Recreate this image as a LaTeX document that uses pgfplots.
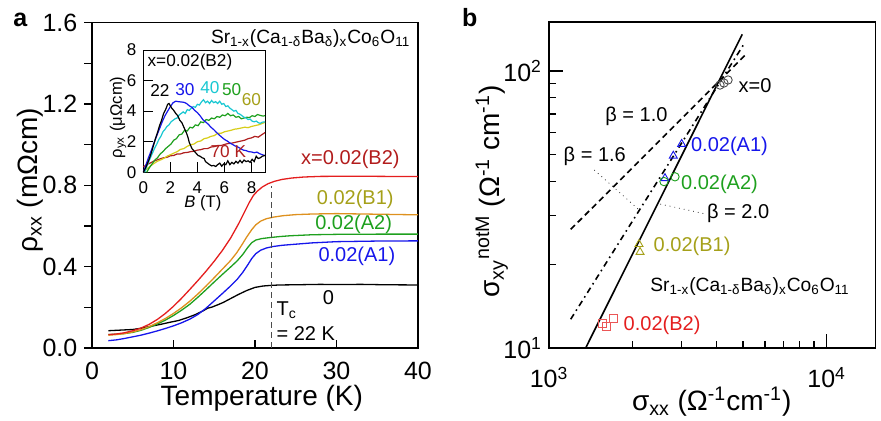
\documentclass[border=0pt]{standalone}
\usepackage{fontspec}
\setmainfont{Liberation Sans}
\usepackage{pgfplots}
\pgfplotsset{compat=1.18}

\definecolor{cRed}{RGB}{228,30,30}
\definecolor{cRedTxt}{RGB}{178,28,28}
\definecolor{cOrange}{RGB}{222,145,30}
\definecolor{cOlive}{RGB}{165,160,25}
\definecolor{cGreen}{RGB}{30,160,30}
\definecolor{cBlue}{RGB}{22,22,235}
\definecolor{cCyan}{RGB}{25,200,210}
\definecolor{cYellow}{RGB}{215,205,25}
\definecolor{cMaroon}{RGB}{175,30,30}
\newcommand{\fs}[1]{\fontsize{#1}{#1}\selectfont}
\newcommand{\SrF}{Sr\textsubscript{1-x}(Ca\textsubscript{1-δ}Ba\textsubscript{δ})\textsubscript{x}Co\textsubscript{6}O\textsubscript{11}}

\pgfplotsset{
  myaxis/.style={
    scale only axis,
    anchor=south west,
    clip=false,
    axis line style={line width=0.6pt},
    every tick/.style={black, line width=0.6pt},
    tick pos=left,
    /pgf/number format/assume math mode=true,
  },
}

\begin{document}
\begin{tikzpicture}
\useasboundingbox (0pt,0pt) rectangle (440.5pt,-210.5pt);

\node[anchor=base west, font=\fs{12.5pt}\bfseries, inner sep=0pt] at (6.5pt,-13.5pt) {a};
\node[anchor=base west, font=\fs{12.5pt}\bfseries, inner sep=0pt] at (230.8pt,-13.4pt) {b};

% ---------------- panel a ----------------
\begin{axis}[myaxis,
  at={(46pt,-174pt)}, width=163pt, height=162.65pt,
  xmin=0, xmax=40, ymin=0, ymax=1.6,
  xtick={0,10,20,30,40}, ytick={0,0.4,0.8,1.2,1.6},
  minor ytick={0.2,0.6,1.0,1.4},
  xtick align=inside, ytick align=outside,
  major tick length=3.8pt, minor tick length=3.8pt,
  tick label style={font=\fs{12.5pt}},
  xticklabel style={yshift=-3.5pt},
  yticklabel style={/pgf/number format/fixed, /pgf/number format/fixed zerofill, /pgf/number format/precision=1},
  xlabel={Temperature (K)}, ylabel={ρ\textsubscript{xx} (mΩcm)},
  label style={font=\fs{14pt}},
  xlabel style={at={(axis description cs:0.521,-0.154)}, anchor=center},
  ylabel style={at={(axis description cs:-0.19,0.516)}, anchor=center},
]
\addplot[black, line width=0.65pt] coordinates {
 (2,0.085) (3,0.087) (4,0.089) (5,0.091) (6,0.097) (6.5,0.101) (7.5,0.109) (8.5,0.117)
 (9.5,0.126) (10.6,0.135) (11.6,0.148) (12.6,0.163) (13.6,0.182) (14.2,0.196) (14.7,0.201)
 (15.4,0.212) (16.1,0.224) (17,0.243) (18,0.264) (19,0.283) (20,0.298) (21,0.305) (22,0.308)
 (23,0.31) (25,0.311) (28,0.313) (30,0.312) (33,0.313) (36,0.311) (40,0.31)};
\addplot[cBlue, line width=0.65pt] coordinates {
 (2,0.036) (3,0.040) (4,0.047) (5,0.055) (6,0.063) (7,0.073) (8,0.084) (9,0.096) (10,0.109)
 (11,0.124) (12,0.142) (13,0.165) (14,0.196) (15,0.232) (16,0.268) (17,0.305) (17.8,0.337)
 (18.5,0.372) (19.1,0.408) (19.6,0.44) (20.1,0.464) (20.7,0.481) (21.4,0.492) (22.2,0.499)
 (23.3,0.505) (24.5,0.509) (27,0.517) (30,0.523) (35,0.526) (40,0.527)};
\addplot[cGreen, line width=0.65pt] coordinates {
 (2,0.066) (3,0.068) (4,0.071) (5,0.077) (6,0.087) (7,0.101) (8,0.118) (9,0.137) (10,0.160)
 (11,0.186) (12,0.215) (13,0.250) (14,0.287) (15,0.325) (16,0.362) (17,0.398) (17.8,0.428)
 (18.5,0.460) (19.1,0.494) (19.6,0.518) (20.1,0.531) (20.8,0.538) (21.8,0.543) (23,0.548)
 (24.3,0.552) (27,0.557) (30,0.559) (35,0.56) (40,0.56)};
\addplot[cOrange, line width=0.65pt] coordinates {
 (2,0.063) (3,0.066) (4,0.071) (5,0.079) (6,0.090) (7,0.105) (8,0.124) (9,0.145) (10,0.170)
 (11,0.198) (12,0.230) (13,0.266) (14,0.305) (15,0.346) (16,0.388) (17,0.430) (17.75,0.468)
 (18.4,0.508) (19,0.547) (19.6,0.582) (20.1,0.606) (20.7,0.624) (21.4,0.636) (22.3,0.644)
 (23.5,0.651) (25,0.656) (27,0.659) (30,0.661) (35,0.658) (40,0.655)};
\addplot[cRed, line width=0.65pt] coordinates {
 (2,0.066) (3,0.069) (4,0.075) (5,0.085) (6,0.098) (7,0.116) (8,0.140) (9,0.170) (10,0.205)
 (11,0.245) (12,0.288) (13,0.332) (14,0.378) (15,0.427) (16,0.480) (17,0.540) (18,0.612)
 (18.7,0.668) (19.3,0.716) (19.8,0.750) (20.3,0.772) (20.9,0.792) (21.6,0.808) (22.4,0.820)
 (23.3,0.829) (24.5,0.836) (26,0.841) (28,0.844) (32,0.845) (36,0.844) (40,0.843)};

\draw[black!70, line width=0.7pt, dash pattern=on 3pt off 2pt] (axis cs:22,0) -- (axis cs:22,0.795);

\node[anchor=east, inner sep=0pt, font=\fs{9.6pt}] at (axis cs:39.1,1.522) {\SrF};
\node[font=\fs{10pt}, text=cRedTxt] at (axis cs:31.7,0.928) {x=0.02(B2)};
\node[font=\fs{10pt}, text=cOlive] at (axis cs:32.3,0.731) {0.02(B1)};
\node[font=\fs{10pt}, text=cGreen] at (axis cs:32.1,0.61) {0.02(A2)};
\node[font=\fs{10pt}, text=cBlue] at (axis cs:32.5,0.449) {0.02(A1)};
\node[font=\fs{10pt}] at (axis cs:29.0,0.247) {0};
\node[anchor=west, inner sep=0pt, font=\fs{10pt}] at (axis cs:22.6,0.187) {T\textsubscript{c}};
\node[anchor=west, inner sep=0pt, font=\fs{10pt}] at (axis cs:22.6,0.072) {= 22 K};
\end{axis}

% ---------------- inset ----------------
\begin{axis}[myaxis,
  at={(71.65pt,-86.15pt)}, width=60.85pt, height=61.15pt,
  axis background/.style={fill=white},
  xmin=0, xmax=9, ymin=0, ymax=8,
  xtick={0,2,4,6,8}, ytick={0,2,4,6,8},
  tick align=inside, major tick length=5pt,
  every tick/.style={black, line width=0.5pt},
  axis line style={line width=0.5pt},
  tick label style={font=\fs{8.5pt}},
  xticklabel style={yshift=-1pt},
  xlabel={\textit{B} (T)}, ylabel={ρ\textsubscript{yx} (μΩcm)},
  label style={font=\fs{8.3pt}},
  xlabel style={at={(axis description cs:0.49,-0.255)}, anchor=center},
  ylabel style={at={(axis description cs:-0.208,0.448)}, anchor=center},
]
\addplot[cMaroon, line width=0.6pt] coordinates {
 (0,0.35) (0.25,0.5) (0.5,0.6) (0.75,0.72) (1.0,0.8) (1.25,0.88) (1.5,0.95) (1.75,0.98)
 (2.0,1.08) (2.25,1.1) (2.5,1.2) (2.75,1.2) (3.0,1.28) (3.25,1.3) (3.5,1.35) (3.75,1.38)
 (4.0,1.45) (4.25,1.48) (4.5,1.55) (4.75,1.55) (5.0,1.65) (5.25,1.68) (5.5,1.75) (5.75,1.75)
 (6.0,1.82) (6.25,1.88) (6.5,1.9) (6.75,1.95) (7.0,2.0) (7.25,2.05) (7.5,2.1) (7.75,2.2)
 (8.0,2.25) (8.25,2.35) (8.5,2.3) (8.75,2.45) (9,2.6)};
\addplot[cYellow, line width=0.6pt] coordinates {
 (0,0) (0.25,0.2) (0.5,0.4) (0.75,0.55) (1.0,0.7) (1.25,0.8) (1.5,0.9) (1.75,1.05) (2.0,1.15)
 (2.25,1.25) (2.5,1.35) (2.75,1.5) (3.0,1.55) (3.25,1.7) (3.5,1.8) (3.75,1.85) (4.0,2.0)
 (4.25,2.05) (4.5,2.2) (4.75,2.25) (5.0,2.35) (5.25,2.4) (5.5,2.55) (5.75,2.55) (6.0,2.65)
 (6.25,2.7) (6.5,2.75) (6.75,2.82) (7.0,2.85) (7.25,2.9) (7.5,2.95) (7.75,2.92) (8.0,3.0)
 (8.25,3.05) (8.5,3.1) (8.75,3.18) (9,3.27)};
\addplot[cGreen, line width=0.6pt] coordinates {
 (0.25,0) (0.45,0.3) (0.65,0.55) (0.85,0.8) (1.05,0.95) (1.25,1.2) (1.45,1.35) (1.65,1.55)
 (1.85,1.7) (2.05,1.85) (2.25,2.1) (2.45,2.2) (2.65,2.45) (2.85,2.5) (3.05,2.75) (3.25,2.7)
 (3.45,2.95) (3.65,2.9) (3.85,3.1) (4.05,3.05) (4.25,3.3) (4.45,3.25) (4.65,3.45) (4.85,3.4)
 (5.05,3.55) (5.25,3.5) (5.45,3.65) (5.65,3.6) (5.85,3.75) (6.05,3.7) (6.25,3.85) (6.45,3.7)
 (6.65,3.75) (6.85,3.6) (7.05,3.65) (7.25,3.5) (7.45,3.55) (7.65,3.6) (7.85,3.58) (8.05,3.7)
 (8.25,3.65) (8.45,3.78) (8.65,3.72) (8.85,3.68) (9,3.7)};
\addplot[cCyan, line width=0.6pt] coordinates {
 (0.1,0) (0.25,0.35) (0.4,0.7) (0.55,1.0) (0.7,1.3) (0.85,1.6) (1.0,1.85) (1.15,2.15) (1.3,2.35)
 (1.45,2.65) (1.6,2.8) (1.75,3.0) (1.9,3.1) (2.05,3.3) (2.2,3.4) (2.35,3.5) (2.5,3.55)
 (2.65,3.75) (2.8,3.85) (2.95,3.95) (3.1,3.85) (3.25,4.1) (3.4,4.05) (3.55,4.2) (3.7,4.3)
 (3.85,4.25) (4.0,4.45) (4.15,4.4) (4.3,4.6) (4.45,4.75) (4.6,4.55) (4.75,4.65) (4.9,4.5)
 (5.05,4.7) (5.2,4.55) (5.35,4.62) (5.5,4.5) (5.65,4.65) (5.8,4.45) (5.95,4.5) (6.1,4.3)
 (6.25,4.35) (6.4,4.2) (6.55,4.1) (6.7,4.0) (6.85,4.05) (7.0,3.85) (7.15,3.8) (7.3,3.7)
 (7.45,3.6) (7.6,3.55) (7.75,3.45) (7.9,3.48) (8.05,3.35) (8.2,3.3) (8.35,3.35) (8.5,3.25)
 (8.65,3.2) (8.8,3.28) (9,3.3)};
\addplot[cBlue, line width=0.6pt] coordinates {
 (0,0) (0.2,0.5) (0.4,1.0) (0.6,1.45) (0.8,1.95) (1.0,2.4) (1.2,2.85) (1.4,3.3) (1.6,3.7)
 (1.8,4.0) (2.0,4.3) (2.2,4.55) (2.4,4.65) (2.6,4.62) (2.8,4.6) (3.0,4.58) (3.2,4.5) (3.4,4.35)
 (3.6,4.25) (3.8,4.05) (4.0,3.9) (4.2,3.7) (4.4,3.45) (4.6,3.3) (4.8,3.15) (5.0,2.95) (5.2,2.8)
 (5.4,2.62) (5.6,2.45) (5.8,2.3) (6.0,2.15) (6.2,2.05) (6.4,1.92) (6.6,1.82) (6.8,1.72)
 (7.0,1.65) (7.2,1.55) (7.4,1.45) (7.6,1.42) (7.8,1.35) (8.0,1.33) (8.2,1.28) (8.4,1.32)
 (8.6,1.22) (8.8,1.15) (9,1.1)};
\addplot[black, line width=0.6pt] coordinates {
 (0,0) (0.15,0.25) (0.3,0.55) (0.45,0.9) (0.6,1.3) (0.75,1.75) (0.9,2.2) (1.05,2.6) (1.2,3.05)
 (1.35,3.4) (1.5,3.85) (1.65,4.1) (1.8,4.45) (1.9,4.5) (2.0,4.35) (2.1,4.2) (2.25,4.05)
 (2.4,3.85) (2.55,3.7) (2.7,3.4) (2.85,3.25) (3.0,2.95) (3.1,2.75) (3.2,2.55) (3.3,2.3)
 (3.4,1.95) (3.5,1.75) (3.6,1.55) (3.75,1.4) (3.9,1.25) (4.05,1.1) (4.2,1.05) (4.35,0.95)
 (4.5,0.9) (4.6,0.7) (4.75,0.6) (4.9,0.5) (5.05,0.42) (5.2,0.45) (5.35,0.38) (5.5,0.5)
 (5.65,0.6) (5.8,0.4) (5.95,0.55) (6.1,0.5) (6.25,0.75) (6.4,0.5) (6.55,0.65) (6.7,0.55)
 (6.85,0.72) (7.0,0.6) (7.15,0.78) (7.3,0.62) (7.45,0.8) (7.6,0.7) (7.75,0.75) (7.9,0.65)
 (8.05,0.85) (8.2,0.7) (8.35,1.05) (8.5,0.9) (8.65,0.95) (8.8,1.05) (9,1.1)};

\node[font=\fs{8.6pt}] at (axis cs:3.45,7.23) {x=0.02(B2)};
\node[font=\fs{8.6pt}] at (axis cs:1.23,5.38) {22};
\node[font=\fs{8.6pt}, text=cBlue] at (axis cs:3.08,5.38) {30};
\node[font=\fs{8.6pt}, text=cCyan] at (axis cs:4.93,5.53) {40};
\node[font=\fs{8.6pt}, text=cGreen] at (axis cs:6.54,5.38) {50};
\node[font=\fs{8.6pt}, text=cOlive] at (axis cs:8.0,4.73) {60};
\node[font=\fs{8.6pt}, text=cMaroon] at (axis cs:6.29,1.35) {70 K};
\end{axis}

% ---------------- panel b ----------------
\begin{axis}[myaxis,
  at={(274.5pt,-174pt)}, width=163.35pt, height=163pt,
  xmode=log, ymode=log,
  xmin=1000, xmax=15020, ymin=10, ymax=150.3,
  xtick={1000,10000}, xticklabels={10\textsuperscript{3},10\textsuperscript{4}},
  ytick={10,100}, yticklabels={10\textsuperscript{1},10\textsuperscript{2}},
  minor xtick={2000,3000,4000,5000,6000,7000,8000,9000},
  minor ytick={20,30,40,50,60,70,80,90},
  tick align=inside, major tick length=7pt, minor tick length=3.5pt,
  tick label style={font=\fs{12.5pt}},
  xticklabel style={yshift=-6pt},
  xlabel={σ\textsubscript{xx} (Ω\textsuperscript{-1}cm\textsuperscript{-1})},
  ylabel={σ\textsubscript{xy}\textsuperscript{notM} (Ω\textsuperscript{-1} cm\textsuperscript{-1})},
  label style={font=\fs{14pt}},
  xlabel style={at={(axis description cs:0.498,-0.165)}, anchor=center},
  ylabel style={at={(axis description cs:-0.175,0.48)}, anchor=center},
]
\addplot[black, line width=0.8pt] coordinates {(1355,10) (4966,135.7)};
\addplot[black, line width=0.8pt, dash pattern=on 3pt off 2pt] coordinates {(1197,26.8) (5082,114)};
\addplot[black, line width=0.8pt, dash pattern=on 3pt off 2pt on 0.8pt off 2pt] coordinates {(1197,12.7) (5007,124)};

\draw[black!80, line width=0.4pt, dotted] (axis cs:1456,43.9) -- (axis cs:2127,31.3);
\draw[black!80, line width=0.4pt, dotted] (axis cs:3594,30.6) -- (axis cs:2510,33.1);

\addplot[only marks, mark=o, mark size=2.1pt, black!70, mark options={line width=0.45pt}] coordinates {
 (4128,89.0) (4265,90.5) (4413,92.8)};
\addplot[only marks, mark=triangle, mark size=2.3pt, cBlue, mark options={line width=0.45pt}] coordinates {
 (2803,49.4) (3004,54.5) (2616,41.0)};
\addplot[only marks, mark=o, mark size=2.1pt, cGreen, mark options={line width=0.45pt}] coordinates {
 (2595,39.9) (2842,41.5)};
\addplot[only marks, mark=triangle, mark size=2.3pt, cOlive, mark options={line width=0.45pt}] coordinates {
 (2109,23.7) (2127,22.2)};
\addplot[only marks, mark=square, mark size=2pt, cRed!75, mark options={line width=0.45pt}] coordinates {
 (1561,12.3) (1614,12.0) (1704,12.8)};

\node[anchor=west, inner sep=0pt, font=\fs{10pt}] at (axis cs:4805,88.3) {x=0};
\node[anchor=west, inner sep=0pt, font=\fs{10pt}] at (axis cs:1591,68.4) {β = 1.0};
\node[anchor=west, inner sep=0pt, font=\fs{10pt}] at (axis cs:1126,49.0) {β = 1.6};
\node[anchor=west, inner sep=0pt, font=\fs{10pt}] at (axis cs:3698,30.6) {β = 2.0};
\node[anchor=west, inner sep=0pt, font=\fs{10pt}, text=cBlue] at (axis cs:3238,53.3) {0.02(A1)};
\node[anchor=west, inner sep=0pt, font=\fs{10pt}, text=cGreen] at (axis cs:2981,39.0) {0.02(A2)};
\node[anchor=west, inner sep=0pt, font=\fs{10pt}, text=cOlive] at (axis cs:2375,23.2) {0.02(B1)};
\node[anchor=west, inner sep=0pt, font=\fs{10pt}, text=cRed] at (axis cs:1852,12.1) {0.02(B2)};
\node[anchor=west, inner sep=0pt, font=\fs{9.6pt}] at (axis cs:2311,16.65) {\SrF};
\end{axis}
\end{tikzpicture}
\end{document}
